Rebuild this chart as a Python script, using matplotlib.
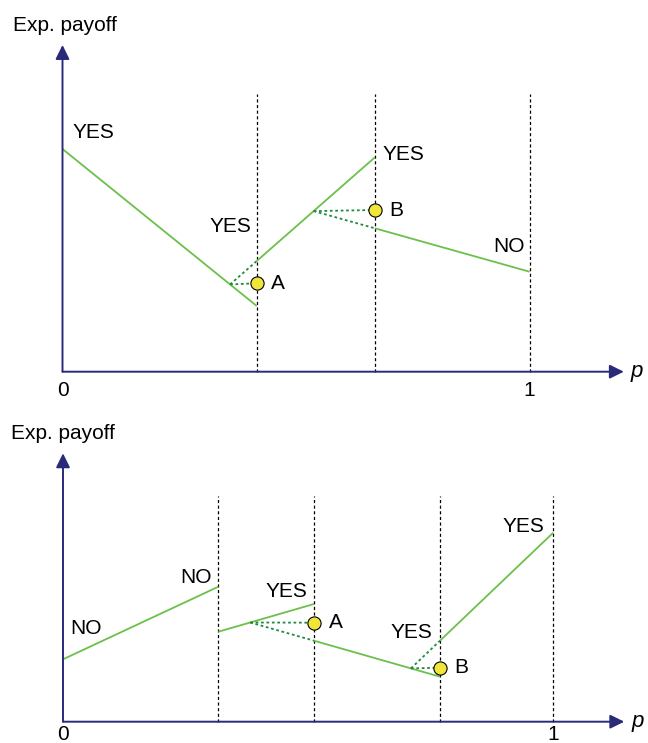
import numpy as np
import matplotlib.pyplot as plt

plt.rcParams['font.family'] = ['Liberation Sans', 'DejaVu Sans']

# top panel: payoff segments between break points (p from 0 to 1)
top_seg_p = [[0.0, 0.416], [0.416, 0.669], [0.669, 1.0]]
top_seg_v = [[222.7, 65.7], [110.7, 214.4], [143.4, 100.0]]
top_vlines = [0.416, 0.669, 1.0]
top_marker_p = [0.416, 0.669]
top_marker_v = [88.4, 161.7]
top_marker_names = ['A', 'B']
top_marker_segs = [0, 1]          # marker sits where segment i meets extension of i+1

# bottom panel
bot_seg_p = [[0.0, 0.317], [0.317, 0.512], [0.512, 0.769], [0.769, 1.0]]
bot_seg_v = [[62.4, 135.0], [90.0, 117.7], [81.0, 45.0], [81.0, 189.0]]
bot_vlines = [0.317, 0.512, 0.769, 1.0]
bot_marker_p = [0.512, 0.769]
bot_marker_v = [99.0, 54.0]
bot_marker_names = ['A', 'B']
bot_marker_segs = [1, 2]

# segment labels: (text, p, value)
top_labels = [('YES', 0.022, 239.0), ('YES', 0.314, 144.7), ('YES', 0.686, 217.7), ('NO', 0.922, 125.7)]
bot_labels = [('NO', 0.015, 93.4), ('NO', 0.240, 144.0), ('YES', 0.413, 130.0),
              ('YES', 0.669, 89.5), ('YES', 0.897, 195.0)]

NAVY = '#2a2a7a'
GREEN = '#6cc04a'
DKGREEN = '#1f8a3c'
YELLOW = '#f0e63a'
FS = 15


def seg_line(p, v):
    slope = (v[1] - v[0]) / (p[1] - p[0])
    return slope, v[0] - slope * p[0]


def draw_panel(ax, seg_p, seg_v, vlines, vtop, mk_p, mk_v, mk_names, mk_segs,
               labels, y_tip, x_tip, ylab_v, num_v):
    ax.axis('off')
    # axes with arrow heads
    arrow = dict(arrowstyle='-|>,head_length=0.85,head_width=0.42', mutation_scale=10,
                 lw=1.4, color=NAVY, shrinkA=0, shrinkB=0)
    ax.annotate('', xy=(0, y_tip), xytext=(0, 0), arrowprops=arrow)
    ax.annotate('', xy=(x_tip, 0), xytext=(0, 0), arrowprops=arrow)

    for xv in vlines:
        ax.plot([xv, xv], [0, vtop], color='black', lw=0.9, ls=(0, (2.5, 2)))

    for p, v in zip(seg_p, seg_v):
        ax.plot(p, v, color=GREEN, lw=1.3, solid_capstyle='butt')

    for i, xm, ym, name in zip(mk_segs, mk_p, mk_v, mk_names):
        s1, b1 = seg_line(seg_p[i], seg_v[i])
        s2, b2 = seg_line(seg_p[i + 1], seg_v[i + 1])
        px = (b2 - b1) / (s1 - s2)
        vx = s1 * px + b1
        # extension of the next segment back to the crossing, and the level line
        ax.plot([px, seg_p[i + 1][0]], [vx, seg_v[i + 1][0]], color=DKGREEN, lw=1.3, ls=(0, (1.5, 1.5)))
        ax.plot([px, xm], [vx, ym], color=DKGREEN, lw=1.3, ls=(0, (1.5, 1.5)))
        ax.plot(xm, ym, 'o', ms=9.5, mfc=YELLOW, mec='black', mew=0.8, zorder=5)
        ax.text(xm + 0.03, ym, name, fontsize=FS, ha='left', va='center')

    for txt, p, v in labels:
        ax.text(p, v, txt, fontsize=FS, ha='left', va='center')

    ax.text(-0.107, ylab_v, 'Exp. payoff', fontsize=FS, ha='left', va='center')
    ax.text(0, num_v, '0', fontsize=FS, ha='center', va='center')
    ax.text(1, num_v, '1', fontsize=FS, ha='center', va='center')
    ax.text(x_tip + 0.014, 0, 'p', fontsize=FS + 1, style='italic', ha='left', va='center')


fig = plt.figure(figsize=(6.48, 7.43), dpi=100)

# top panel: 0..400 px of the figure, origin at (62.5, 371.7) px, p=1 at 529.3 px
ax1 = fig.add_axes([0, 343 / 743, 1, 400 / 743])
ax1.set_xlim(-62.5 / 467, (648 - 62.5) / 467)
ax1.set_ylim(371.7 - 400, 371.7)
draw_panel(ax1, top_seg_p, top_seg_v, top_vlines, 277.4, top_marker_p, top_marker_v,
           top_marker_names, top_marker_segs, top_labels, 326.7, 1.202, 346.0, -18.5)

# bottom panel: 400..743 px, origin at (63, 721.7) px, p=1 at 553.2 px
ax2 = fig.add_axes([0, 0, 1, 343 / 743])
ax2.set_xlim(-63 / 490.2, (648 - 63) / 490.2)
ax2.set_ylim(721.7 - 743, 721.7 - 400)
draw_panel(ax2, bot_seg_p, bot_seg_v, bot_vlines, 225.7, bot_marker_p, bot_marker_v,
           bot_marker_names, bot_marker_segs, bot_labels, 268.4, 1.145, 288.4, -13.2)

fig.savefig('out.png', dpi=100)
